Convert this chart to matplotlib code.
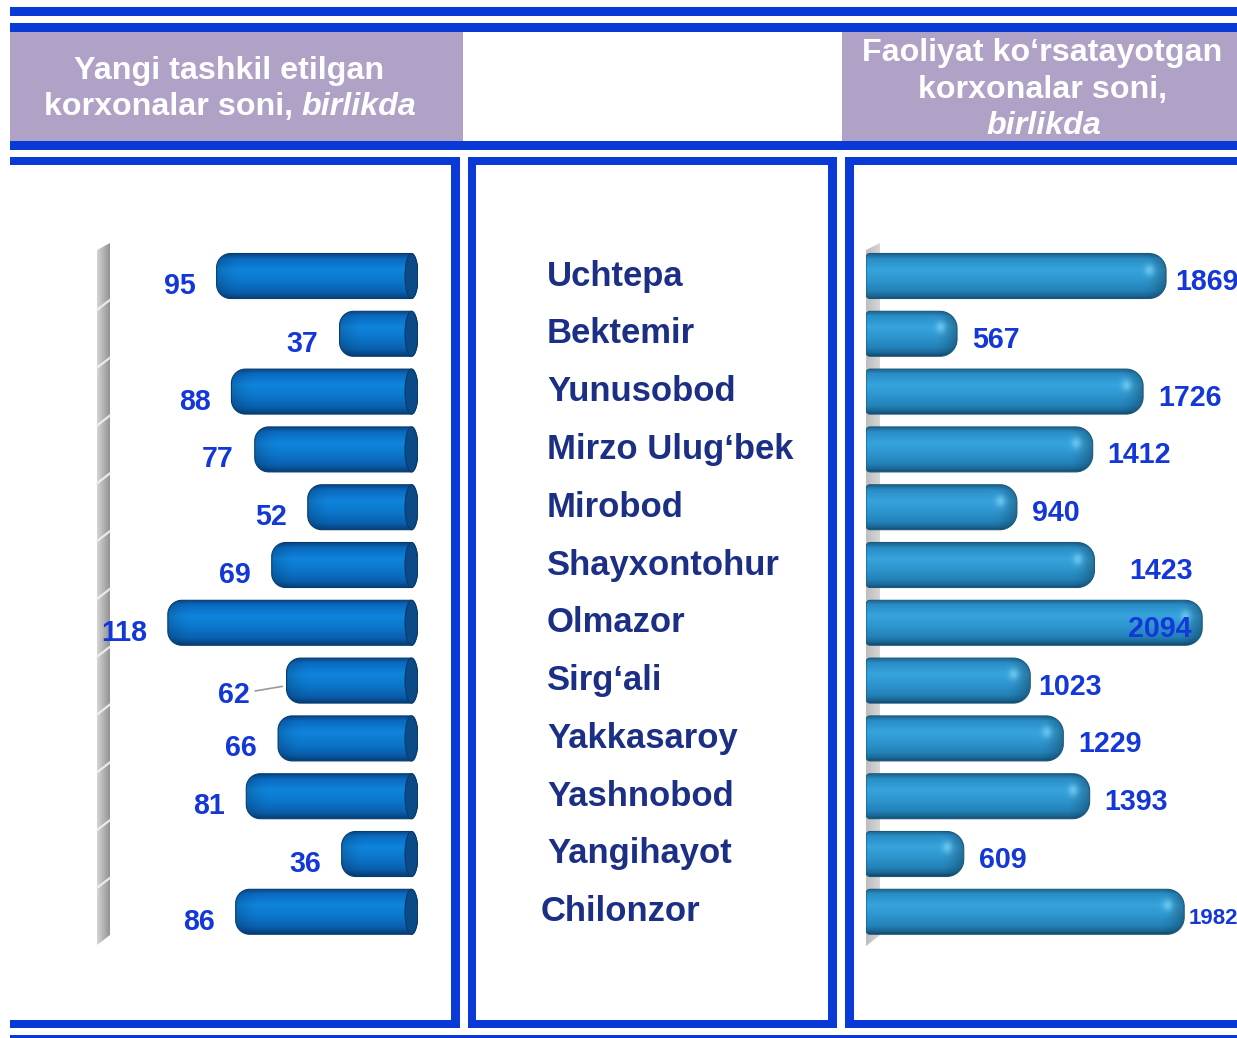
import numpy as np
import matplotlib
matplotlib.use("Agg")
import matplotlib.pyplot as plt
from matplotlib.patches import Rectangle, Polygon, Ellipse
from matplotlib.colors import LinearSegmentedColormap
from matplotlib import transforms

# Tuman nomlari va korxonalar soni
districts = ["Uchtepa", "Bektemir", "Yunusobod", "Mirzo Ulug‘bek", "Mirobod",
             "Shayxontohur", "Olmazor", "Sirg‘ali", "Yakkasaroy", "Yashnobod",
             "Yangihayot", "Chilonzor"]
new_firms = [95, 37, 88, 77, 52, 69, 118, 62, 66, 81, 36, 86]
active_firms = [1869, 567, 1726, 1412, 940, 1423, 2094, 1023, 1229, 1393, 609, 1982]

left_title = ["Yangi tashkil etilgan", "korxonalar soni,", "birlikda"]
right_title = ["Faoliyat ko‘rsatayotgan", "korxonalar soni,", "birlikda"]

W, H = 1237, 1038
BLUE = "#0a3ad6"
PURPLE = "#b0a1c7"
VAL_BLUE = "#1438d8"
NAVY = "#1b2f85"
FONT = "Liberation Sans"

ROW0, STEP = 276, 57.8      # markaz va qator qadami (px)
BAR_H = 45                  # ustun qalinligi (px)
n = len(districts)

fig = plt.figure(figsize=(W / 100, H / 100), dpi=100)
bg = fig.add_axes([0, 0, 1, 1])
bg.set_xlim(0, W)
bg.set_ylim(H, 0)
bg.axis("off")


def box(x0, y0, x1, y1, color=BLUE):
    bg.add_patch(Rectangle((x0, y0), x1 - x0, y1 - y0, color=color, lw=0))


# ramka
box(10, 7, W, 16)
box(10, 23, W, 32)
box(10, 32, 463, 141, PURPLE)
box(842, 32, W, 141, PURPLE)
box(10, 141, W, 150)
for x0, x1 in [(10, 460), (468, 837), (845, W)]:
    box(x0, 157, x1, 165)
    box(x0, 1020, x1, 1028)
box(451, 157, 460, 1028)
box(468, 157, 476, 1028)
box(828, 157, 837, 1028)
box(845, 157, 854, 1028)
box(10, 1035, W, 1038)

# sarlavhalar
hdr = dict(color="white", fontsize=23.2, fontweight="bold", family=FONT,
           ha="center", va="center")
bg.text(229, 71, left_title[0], **hdr)
renderer = fig.canvas.get_renderer()
t1 = bg.text(0, 107, left_title[1], **{**hdr, "ha": "left"})
t2 = bg.text(0, 107, left_title[2], **{**hdr, "ha": "left", "style": "italic"})
w1 = t1.get_window_extent(renderer).width
w2 = t2.get_window_extent(renderer).width
sp = 9
start = 230 - (w1 + sp + w2) / 2
t1.set_x(start)
t2.set_x(start + w1 + sp)

bg.text(1042, 53, right_title[0], **hdr)
bg.text(1042, 90, right_title[1], **hdr)
bg.text(1044, 126, right_title[2], **{**hdr, "style": "italic"})


def panel_axes(x0, x1, xlim):
    top = ROW0 - STEP / 2
    bottom = top + n * STEP
    ax = fig.add_axes([x0 / W, 1 - bottom / H, (x1 - x0) / W, (bottom - top) / H])
    ax.set_xlim(*xlim)
    ax.set_ylim(n - 0.5, -0.5)
    ax.axis("off")
    ax.patch.set_alpha(0)
    return ax


# kulrang devorlar
def wall(pts, c0, c1, seps):
    poly = Polygon(pts, closed=True, facecolor="none", edgecolor="none")
    bg.add_patch(poly)
    xs = [p[0] for p in pts]
    ys = [p[1] for p in pts]
    cmap = LinearSegmentedColormap.from_list("w", [c0, c1])
    grad = np.linspace(0, 1, 32)[None, :]
    im = bg.imshow(grad, cmap=cmap, extent=(min(xs), max(xs), max(ys), min(ys)),
                   aspect="auto", interpolation="bilinear", zorder=1)
    im.set_clip_path(poly)
    if seps:
        for k in range(1, n):
            yb = ROW0 - STEP / 2 + k * STEP
            bg.plot([min(xs), max(xs)], [yb + 5, yb - 5], color="#f2f2f2",
                    lw=1.6, alpha=0.9, zorder=2)


wall([(97, 250), (110, 243), (110, 935), (97, 945)], "#d4d4d4", "#939393", True)
wall([(866, 250), (880, 243), (880, 935), (866, 946)], "#bdbdbd", "#d6d6d6", False)
bg.set_xlim(0, W)
bg.set_ylim(H, 0)

ax_l = panel_axes(100, 418, (150, 0))
ax_r = panel_axes(866, 1237, (0, 2311))
sx_l = 318 / 150
sx_r = 371 / 2311

cmap_l = LinearSegmentedColormap.from_list(
    "l", [(0, "#0a4a8a"), (0.1, "#0a6ac0"), (0.35, "#0f84dc"), (0.6, "#0b77cb"),
          (0.85, "#0a60af"), (1, "#06407a")])
cmap_r = LinearSegmentedColormap.from_list(
    "r", [(0, "#1d6892"), (0.1, "#2a8ec6"), (0.35, "#36a3dd"), (0.58, "#2e96cf"),
          (0.82, "#2382b9"), (0.95, "#1a6592"), (1, "#134b6e")])


def arc(cx, cy, rx, ry, a0, a1, k=18):
    t = np.radians(np.linspace(a0, a1, k))
    return np.column_stack([cx + rx * np.cos(t), cy + ry * np.sin(t)])


def bar(ax, i, value, sx, cmap, left_panel):
    L = value * sx
    h = BAR_H
    if left_panel:
        r, c = 14, 6.5
        outline = np.vstack([
            [[c, -h / 2]],
            arc(L - r, -h / 2 + r, r, r, -90, 0),
            arc(L - r, h / 2 - r, r, r, 0, 90),
            arc(c, 0, c, h / 2, 90, 270, 30),
        ])
    else:
        r, rb = 17, 4
        outline = np.vstack([
            arc(rb, -h / 2 + rb, rb, rb, 180, 270, 6),
            arc(L - r, -h / 2 + r, r, r, -90, 0),
            arc(L - r, h / 2 - r, r, r, 0, 90),
            arc(rb, h / 2 - rb, rb, rb, 90, 180, 6),
        ])
    data = np.column_stack([outline[:, 0] / sx, i + outline[:, 1] / STEP])
    edge = "#073c72" if left_panel else "#1a5a80"
    poly = Polygon(data, closed=True, facecolor="none", edgecolor=edge,
                   lw=0.8, zorder=3)
    ax.add_patch(poly)

    # hajmli bo'yoq
    nl = int(L) + 2
    u = np.arange(nl)[None, :]
    w = np.linspace(0, 1, h)[:, None]
    rgb = cmap(np.repeat(w, nl, axis=1))[..., :3]
    far = np.clip((u - (L - 24)) / 24, 0, 1) ** 1.6
    shade = 1 - (0.18 if left_panel else 0.3) * far
    rgb = rgb * shade[..., None]
    if not left_panel:
        ww = (np.arange(h)[:, None] - h / 2)
        spot = np.exp(-(((u - (L - 17)) / 5.0) ** 2 + ((ww + 7) / 6.0) ** 2))
        rgb = rgb + spot[..., None] * (np.array([0.45, 0.8, 0.95]) - rgb) * 0.8
    hh = h / 2 / STEP
    im = ax.imshow(np.clip(rgb, 0, 1), extent=(0, nl / sx, i + hh, i - hh),
                   origin="upper", aspect="auto", interpolation="bilinear",
                   zorder=2)
    im.set_clip_path(poly)

    if left_panel:
        ax.add_patch(Ellipse((c / sx, i), 2 * c / sx, h / STEP,
                             facecolor="#0a4a86", edgecolor="#083a6c",
                             lw=0.8, zorder=4))


for i, v in enumerate(new_firms):
    bar(ax_l, i, v, sx_l, cmap_l, True)
for i, v in enumerate(active_firms):
    bar(ax_r, i, v, sx_r, cmap_r, False)
ax_l.set_xlim(150, 0)
ax_l.set_ylim(n - 0.5, -0.5)
ax_r.set_xlim(0, 2311)
ax_r.set_ylim(n - 0.5, -0.5)

# qiymat yozuvlari
val = dict(color=VAL_BLUE, fontsize=20.6, fontweight="bold", family=FONT,
           va="center", clip_on=False, zorder=6)
for i, v in enumerate(new_firms):
    if v == 62:
        ax_l.annotate(str(v), xy=(v + 2, i + 0.1),
                      xytext=(v + 37 / sx_l, i + 14 / STEP), ha="right",
                      arrowprops=dict(arrowstyle="-", color="#9a9a9a", lw=1.2,
                                      shrinkA=2, shrinkB=0), **val)
    else:
        ax_l.text(v + 21 / sx_l, i + 10 / STEP, str(v), ha="right", **val)

gaps = {0: 9, 5: 35, 7: 8, 11: 4}
for i, v in enumerate(active_firms):
    if v == max(active_firms):
        ax_r.text(v - 11 / sx_r, i + 6 / STEP, str(v), ha="right", **val)
    elif i == n - 1:
        ax_r.text(v + gaps[i] / sx_r, i + 7 / STEP, str(v), ha="left",
                  **{**val, "fontsize": 16})
    else:
        ax_r.text(v + gaps.get(i, 15) / sx_r, i + 6 / STEP, str(v), ha="left", **val)

# tuman nomlari
names_tr = transforms.blended_transform_factory(bg.transData, ax_l.transData)
for i, name in enumerate(districts):
    bg.text(547 if i < n - 1 else 541, i, name, transform=names_tr,
            color=NAVY, fontsize=24.9, fontweight="bold", family=FONT,
            ha="left", va="center")

fig.savefig("out.png", dpi=100)
